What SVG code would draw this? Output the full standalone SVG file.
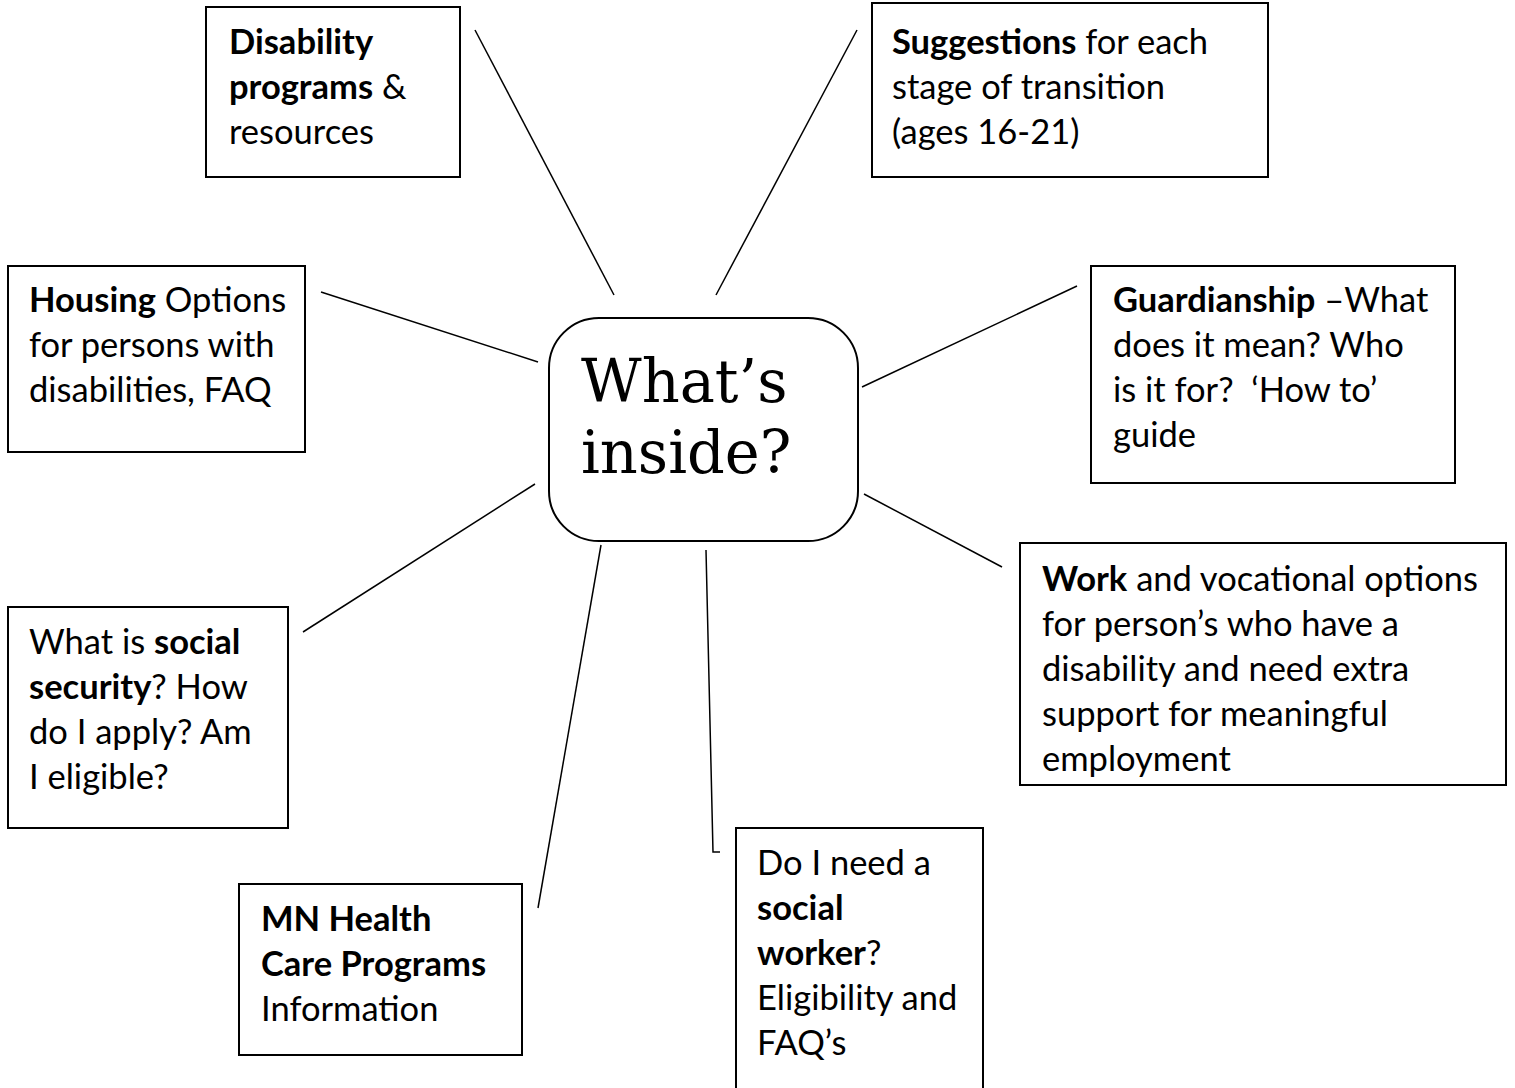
<svg xmlns="http://www.w3.org/2000/svg" width="1515" height="1088" viewBox="0 0 1515 1088">
<style>
.box{fill:#fff;stroke:#000;stroke-width:2}
.t{font-family:Lato,"Liberation Sans",sans-serif;font-size:34.5px;fill:#000}
.b{font-weight:bold}
.c{font-family:"DejaVu Serif","Liberation Serif",serif;font-size:59px;fill:#000}
.ln{stroke:#000;stroke-width:1.5;fill:none}
</style>
<rect width="1515" height="1088" fill="#fff"/>
<g id="connectors">
<line class="ln" x1="475" y1="30" x2="614" y2="295"/>
<line class="ln" x1="857" y1="30" x2="716" y2="295"/>
<line class="ln" x1="321" y1="292" x2="538" y2="362"/>
<line class="ln" x1="1077" y1="286" x2="862" y2="387"/>
<line class="ln" x1="303" y1="632" x2="535" y2="484"/>
<line class="ln" x1="1002" y1="567" x2="864" y2="494"/>
<line class="ln" x1="538" y1="908" x2="601" y2="545"/>
<polyline class="ln" points="706,550 713,852 720,852"/>
</g>
<g id="center">
<rect class="box" x="549" y="318" width="309" height="223" rx="50" ry="50"/>
<text class="c" x="581" y="402">What’s</text>
<text class="c" x="581" y="473">inside?</text>
</g>
<g id="disability">
<rect class="box" x="206" y="7" width="254" height="170"/>
<text class="t"><tspan x="229" y="54" class="b">Disability</tspan><tspan x="229" y="99"><tspan class="b">programs</tspan> &amp;</tspan><tspan x="229" y="144">resources</tspan></text>
</g>
<g id="suggestions">
<rect class="box" x="872" y="3" width="396" height="174"/>
<text class="t"><tspan x="892" y="54"><tspan class="b">Suggestions</tspan> for each</tspan><tspan x="892" y="99">stage of transition</tspan><tspan x="892" y="144">(ages 16-21)</tspan></text>
</g>
<g id="housing">
<rect class="box" x="8" y="266" width="297" height="186"/>
<text class="t"><tspan x="29" y="312"><tspan class="b">Housing</tspan> Options</tspan><tspan x="29" y="357">for persons with</tspan><tspan x="29" y="402">disabilities, FAQ</tspan></text>
</g>
<g id="guardianship">
<rect class="box" x="1091" y="266" width="364" height="217"/>
<text class="t"><tspan x="1113" y="312"><tspan class="b">Guardianship</tspan> –What</tspan><tspan x="1113" y="357">does it mean? Who</tspan><tspan x="1113" y="402">is it for?&#160; ‘How to’</tspan><tspan x="1113" y="447">guide</tspan></text>
</g>
<g id="social-security">
<rect class="box" x="8" y="607" width="280" height="221"/>
<text class="t"><tspan x="29" y="654">What is <tspan class="b">social</tspan></tspan><tspan x="29" y="699"><tspan class="b">security</tspan>? How</tspan><tspan x="29" y="744">do I apply? Am</tspan><tspan x="29" y="789">I eligible?</tspan></text>
</g>
<g id="work">
<rect class="box" x="1020" y="543" width="486" height="242"/>
<text class="t"><tspan x="1042" y="591"><tspan class="b">Work</tspan> and vocational options</tspan><tspan x="1042" y="636">for person’s who have a</tspan><tspan x="1042" y="681">disability and need extra</tspan><tspan x="1042" y="726">support for meaningful</tspan><tspan x="1042" y="771">employment</tspan></text>
</g>
<g id="mn-health">
<rect class="box" x="239" y="884" width="283" height="171"/>
<text class="t"><tspan x="261" y="931" class="b">MN Health</tspan><tspan x="261" y="976" class="b">Care Programs</tspan><tspan x="261" y="1021">Information</tspan></text>
</g>
<g id="social-worker">
<rect class="box" x="736" y="828" width="247" height="270"/>
<text class="t"><tspan x="757" y="875">Do I need a</tspan><tspan x="757" y="920" class="b">social</tspan><tspan x="757" y="965"><tspan class="b">worker</tspan>?</tspan><tspan x="757" y="1010">Eligibility and</tspan><tspan x="757" y="1055">FAQ’s</tspan></text>
</g>
</svg>
